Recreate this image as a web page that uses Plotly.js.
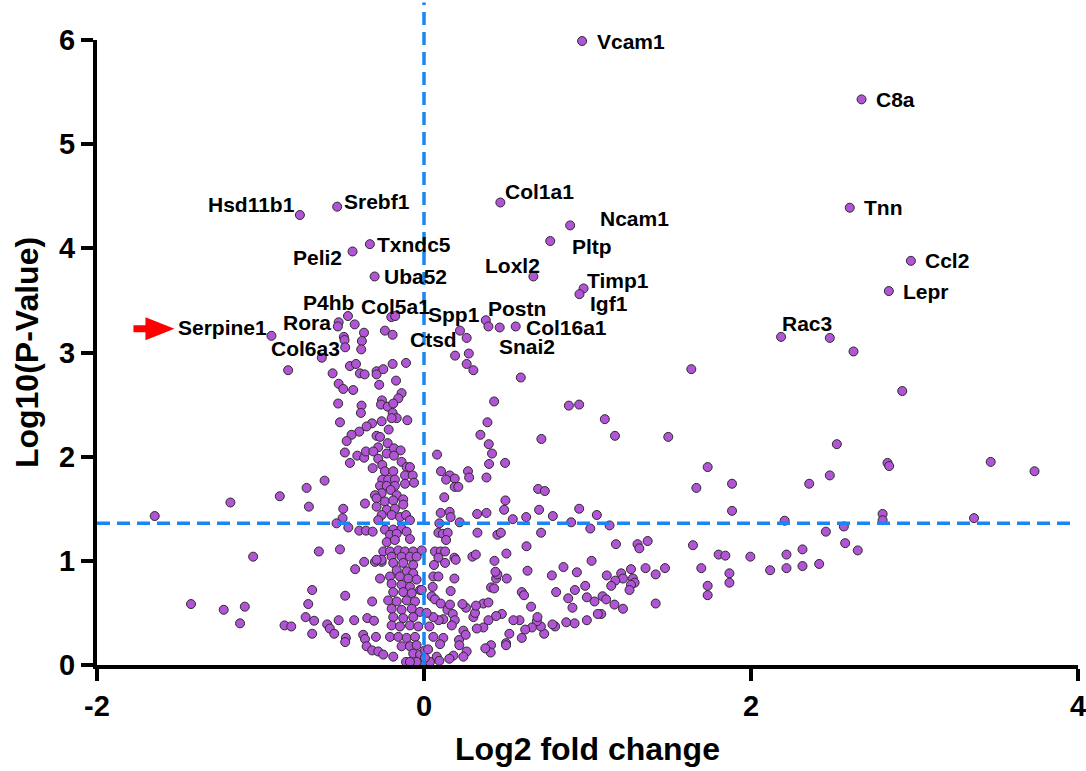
<!DOCTYPE html>
<html>
<head>
<meta charset="utf-8">
<script src="https://cdn.plot.ly/plotly-3.0.1.min.js"></script>
<style>html,body{margin:0;padding:0;background:#fff;}#chart{width:1086px;height:771px;}</style>
</head>
<body>
<div id="chart"></div>
<script>
// Labelled genes
const geneNames = ['Vcam1','C8a','Tnn','Ccl2','Lepr','Hsd11b1','Srebf1','Col1a1','Ncam1','Pltp','Loxl2','Timp1','Igf1','Postn','Col16a1','Snai2','Spp1','Ctsd','Txndc5','Peli2','Uba52','P4hb','Col5a1','Rora','Serpine1','Col6a3','Rac3'];
const geneLog2FC = [0.967,2.676,2.604,2.978,2.843,-0.759,-0.531,0.467,0.894,0.772,0.669,0.976,0.951,0.378,0.561,0.463,0.394,0.220,-0.331,-0.437,-0.302,-0.465,-0.176,-0.527,-0.933,-0.625,2.184];
const geneLogP = [5.99,5.43,4.39,3.88,3.59,4.32,4.40,4.44,4.22,4.07,3.73,3.615,3.56,3.31,3.25,3.24,3.25,3.21,4.04,3.97,3.73,3.35,3.35,3.25,3.16,2.95,3.15];

// All other genes
const otherLog2FC = [
-0.522,-0.424,-0.367,-0.49,-0.486,-0.38,-0.482,-0.384,-0.239,-0.192,-0.2,-0.831,-0.559,-0.453,-0.416,-0.392,-0.363,-0.29,-0.29,-0.249,-0.192,-0.11,-0.522,-0.494,-0.433,-0.274,-0.171,-0.137,-0.157,-0.257,-0.525,-0.514,-0.382,-0.386,-0.263,-0.222,-0.188,-0.192,-0.167,-0.198,-0.102,-0.259,-0.318,-0.351,-0.396,-0.443,-0.473,-0.216,-0.29,-0.269,-0.222,-0.28,-0.484,-0.408,-0.366,-0.355,-0.31,-0.28,-0.228,-0.184,-0.143,-0.184,-0.453,-0.314,-0.255,-0.137,-0.106,-0.086,-0.239,-0.188,-0.116,-0.069,-0.255,-0.219,-0.178,-0.116,-0.061,-0.269,-0.228,-0.178,-0.259,-0.204,-0.167,-0.30,-0.361,-0.29,-0.239,-0.188,-0.127,-0.127,-0.29,-0.228,-0.178,-0.494,-0.259,-0.198,-0.147,-0.11,-0.498,-0.28,-0.086,-0.535,-1.647,-1.184,-0.882,-0.718,-0.704,-0.608,
0.19,0.274,0.261,0.302,0.592,1.635,0.429,0.261,0.886,0.949,1.106,1.168,1.494,0.388,0.345,0.396,0.718,0.416,0.08,0.398,0.496,0.104,0.157,0.188,0.135,0.269,0.276,0.382,0.188,0.21,0.698,0.739,0.124,0.498,0.49,0.704,0.949,0.102,0.157,0.163,0.325,0.382,0.543,0.625,0.788,1.057,0.094,0.218,0.9,1.017,1.135,1.666,1.735,1.884,1.884,
2.482,2.627,2.925,2.525,2.835,2.845,3.466,3.734,2.356,2.482,2.206,2.805,2.805,3.364,2.568,2.458,1.996,2.117,2.217,2.217,2.315,2.315,2.417,2.576,2.653,
-1.045,-0.643,-0.514,-1.425,-1.225,-1.096,-1.125,-0.853,-0.812,-0.684,-0.708,-0.482,-0.724,-0.672,-0.684,-0.522,-0.427,-0.592,-0.576,-0.549,-0.478,-0.482,-0.366,-0.421,-0.30,-0.259,-0.269,-0.317,-0.347,-0.306,-0.372,-0.361,-0.294,-0.351,-0.317,-0.28,-0.249,-0.188,-0.11,-0.014,-0.463,-0.396,-0.355,-0.314,
-0.239,-0.188,-0.137,-0.208,-0.167,-0.106,-0.228,-0.178,-0.086,-0.249,-0.208,-0.157,-0.116,-0.066,-0.014,-0.198,-0.137,-0.086,-0.045,-0.188,-0.127,-0.066,-0.167,-0.106,-0.066,-0.208,-0.147,-0.096,-0.045,-0.198,-0.137,-0.086,-0.024,-0.188,-0.127,-0.075,-0.219,-0.167,-0.106,-0.055,-0.198,-0.137,-0.075,-0.024,-0.188,-0.127,-0.066,-0.198,-0.147,-0.086,-0.035,-0.208,-0.157,-0.106,-0.055,-0.137,-0.086,-0.045,-0.066,-0.024,-0.045,-0.086,0.037,0.078,0.006,-0.259,-0.29,
1.174,1.306,1.317,1.368,1.645,1.802,1.843,1.696,1.868,1.868,1.735,1.735,1.417,1.474,1.417,1.355,1.266,1.206,1.217,1.278,1.288,1.266,1.257,1.17,1.145,1.118,1.092,1.114,1.165,1.217,1.084,1.063,1.043,0.996,0.986,0.923,0.882,0.908,0.808,0.782,0.853,0.935,1.025,0.996,0.921,0.87,0.802,0.786,0.735,0.715,0.69,0.694,0.66,0.619,0.598,0.522,0.502,0.502,0.41,0.408,0.375,0.655,0.598,0.612,0.584,0.547,0.476,0.441,0.394,0.363,0.302,0.312,0.323,0.363,0.394,0.318,0.257,0.235,0.41,0.429,0.506,0.441,0.449,0.437,0.431,0.633,0.504,0.296,0.317,0.627,0.716,0.449,0.47,0.327,0.163,0.186,0.186,0.194,0.088,0.115,0.145,0.135,0.067,0.102,0.129,0.088,0.129,0.061,0.057,0.088,0.053,0.047,0.067,0.102,0.143,0.159,0.176,0.188,0.118,0.09,0.057,0.17,0.241,0.255,0.214,0.216,0.261,0.241,0.18,0.155,0.094,0.118,0.098,0.057,0.033,0.016,0.025,0.006,-0.014
];
const otherLogP = [
3.29,3.27,3.19,3.15,3.12,3.11,3.05,3.03,3.21,3.17,3.34,2.83,2.80,2.87,2.89,2.80,2.79,2.82,2.79,2.84,2.89,2.90,2.70,2.65,2.64,2.69,2.73,2.61,2.56,2.54,2.51,2.33,2.49,2.42,2.50,2.48,2.51,2.42,2.37,2.37,2.35,2.34,2.32,2.29,2.24,2.21,2.15,2.26,2.20,2.19,2.13,2.09,2.04,2.01,1.99,2.05,2.05,1.98,2.03,2.08,2.06,2.01,1.94,1.89,1.92,1.95,1.90,1.90,1.86,1.86,1.82,1.82,1.78,1.78,1.78,1.74,1.75,1.72,1.72,1.72,1.65,1.68,1.63,1.63,1.55,1.60,1.57,1.58,1.59,1.54,1.52,1.49,1.50,1.50,1.44,1.44,1.42,1.44,1.41,1.39,1.39,1.36,1.43,1.56,1.62,1.70,1.52,1.77,
2.97,2.99,2.89,2.83,2.76,2.84,2.53,3.14,2.49,2.50,2.36,2.20,2.19,2.33,2.21,2.12,2.17,2.03,2.02,1.93,1.94,1.86,1.82,1.79,1.78,1.86,1.80,1.80,1.71,1.71,1.69,1.67,1.61,1.58,1.49,1.49,1.50,1.46,1.47,1.42,1.45,1.46,1.40,1.42,1.43,1.44,1.36,1.37,1.37,1.31,1.34,1.70,1.90,1.74,1.48,
3.14,3.01,2.63,2.12,1.94,1.91,1.95,1.86,1.74,1.82,1.385,1.45,1.39,1.41,1.33,1.28,1.04,0.91,1.06,0.93,1.11,0.95,0.97,1.17,1.10,
1.04,1.09,1.11,0.585,0.53,0.56,0.40,0.38,0.37,0.72,0.585,0.665,0.46,0.425,0.30,0.43,0.43,0.39,0.35,0.30,0.26,0.22,0.99,0.92,0.99,0.99,0.83,0.61,0.45,0.425,0.29,0.25,0.27,0.18,0.14,0.13,0.10,0.08,0.03,0.02,1.32,1.29,1.29,1.28,
1.30,1.30,1.31,1.25,1.26,1.28,1.18,1.20,1.21,1.09,1.09,1.10,1.09,1.09,1.10,1.04,1.04,1.04,1.04,0.98,0.98,0.96,0.91,0.90,0.88,0.85,0.85,0.83,0.82,0.78,0.77,0.75,0.72,0.70,0.70,0.69,0.62,0.61,0.62,0.61,0.54,0.53,0.54,0.51,0.46,0.45,0.46,0.38,0.37,0.38,0.37,0.27,0.27,0.26,0.27,0.18,0.18,0.19,0.11,0.10,0.03,0.03,0.03,0.08,0.14,1.01,1.01,
1.16,1.16,1.12,1.19,1.15,1.06,1.05,0.93,0.88,0.79,0.76,0.67,0.59,0.93,0.87,0.93,0.92,0.88,0.83,0.83,0.79,0.77,0.72,0.81,0.76,0.86,0.66,0.63,0.58,0.54,0.49,0.49,0.61,0.65,0.76,0.72,0.64,0.55,0.70,0.86,0.94,0.89,1.00,0.43,0.40,0.41,0.37,0.39,0.30,0.37,0.42,0.46,0.36,0.34,0.26,0.30,0.21,0.19,0.19,0.12,0.16,0.56,0.70,0.67,0.43,0.43,0.49,0.47,0.43,0.36,0.46,0.50,0.35,0.59,0.60,0.57,0.55,0.585,0.745,0.735,0.83,0.83,0.87,0.895,1.00,0.905,1.07,1.04,1.06,1.14,1.27,1.25,1.27,1.27,0.71,0.83,1.03,1.01,1.27,1.26,1.27,1.20,1.09,1.09,1.09,1.03,0.98,0.96,0.85,0.85,0.75,0.66,0.63,0.59,0.53,0.58,0.49,0.43,0.44,0.43,0.46,0.38,0.33,0.29,0.24,0.19,0.13,0.08,0.09,0.06,0.04,0.26,0.20,0.27,0.37,0.50,0.15,0.07,0.72
];

const pThreshold = 1.36;
const xTicks = [-2, 0, 2, 4];
const yTicks = [0, 1, 2, 3, 4, 5, 6];

// label placement (pixel offsets), styling only
const labelStyle = {
  Vcam1:['left',13,0], C8a:['left',12,0], Tnn:['left',12,0], Ccl2:['left',12,0], Lepr:['left',12,0],
  Hsd11b1:['right',-3,11], Srebf1:['left',5,5], Col1a1:['left',3,11], Ncam1:['left',28,7], Pltp:['left',20,-5],
  Loxl2:['right',9,11], Timp1:['left',1,8], Igf1:['left',9,-9], Postn:['left',0,12], Col16a1:['left',8,-1],
  Snai2:['left',-3,-19], Spp1:['right',-6,12], Ctsd:['right',-1,-9], Txndc5:['left',5,0], Peli2:['right',-9,-6],
  Uba52:['left',7,0], P4hb:['right',8,14], Col5a1:['center',0,10], Rora:['right',-5,4], Serpine1:['right',-2,8],
  Col6a3:['center',-16,9], Rac3:['left',-1,13]
};

const FONT = 'Liberation Sans, Arial, sans-serif';
const markerStyle = {size: 9, color: '#b154d6', line: {color: '#2b2b2b', width: 1}};

const traces = [
  {x: otherLog2FC, y: otherLogP, mode: 'markers', type: 'scatter', marker: markerStyle, cliponaxis: false, hoverinfo: 'x+y'},
  {x: geneLog2FC, y: geneLogP, text: geneNames, mode: 'markers', type: 'scatter', marker: markerStyle, cliponaxis: false, hoverinfo: 'text+x+y'}
];

const annotations = geneNames.map((g, i) => {
  const s = labelStyle[g];
  return {x: geneLog2FC[i], y: geneLogP[i], xref: 'x', yref: 'y', text: g, showarrow: false,
    xanchor: s[0], yanchor: 'middle', xshift: s[1], yshift: s[2],
    font: {family: FONT, size: 21, color: '#000', weight: 'bold'}};
});

const si = geneNames.indexOf('Serpine1');
const shapes = [
  {type: 'line', xref: 'x', yref: 'paper', x0: 0, x1: 0, y0: 0, y1: 1.06, layer: 'above',
   line: {color: '#1a86f2', width: 3.5, dash: '13px,7px'}},
  {type: 'line', xref: 'x', yref: 'y', x0: -2, x1: 3.99, y0: pThreshold, y1: pThreshold, layer: 'above',
   line: {color: '#1a86f2', width: 3.5, dash: '13px,7px'}},
  {type: 'path', xref: 'x', yref: 'y', xsizemode: 'pixel', ysizemode: 'pixel',
   xanchor: geneLog2FC[si], yanchor: geneLogP[si],
   path: 'M -138 10.5 L -126 10.5 L -126 18.5 L -97 7 L -126 -4.5 L -126 3.5 L -138 3.5 Z',
   fillcolor: '#ff0000', line: {width: 0}, layer: 'above'}
];

const layout = {
  width: 1086, height: 771,
  margin: {l: 97, r: 8, t: 40, b: 106},
  paper_bgcolor: '#fff', plot_bgcolor: '#fff',
  showlegend: false,
  font: {family: FONT, color: '#000'},
  xaxis: {
    range: [-2, 4], tickmode: 'array', tickvals: xTicks, ticktext: xTicks.map(String),
    showline: true, linecolor: '#000', linewidth: 4, ticks: 'outside', ticklen: 12, tickwidth: 4, tickcolor: '#000',
    showgrid: false, zeroline: false, ticklabeloverflow: 'allow',
    tickfont: {family: FONT, size: 29, weight: 'bold'},
    title: {text: 'Log2 fold change', font: {family: FONT, size: 32, weight: 'bold'}, standoff: 18}
  },
  yaxis: {
    range: [0, 6], tickmode: 'array', tickvals: yTicks, ticktext: yTicks.map(String),
    showline: true, linecolor: '#000', linewidth: 4, ticks: 'outside', ticklen: 12, tickwidth: 4, tickcolor: '#000',
    showgrid: false, zeroline: false, ticklabeloverflow: 'allow',
    tickfont: {family: FONT, size: 29, weight: 'bold'},
    title: {text: 'Log10(P-Value)', font: {family: FONT, size: 32, weight: 'bold'}, standoff: 12}
  },
  annotations: annotations,
  shapes: shapes
};

Plotly.newPlot('chart', traces, layout, {displayModeBar: false, staticPlot: true});
</script>
</body>
</html>
